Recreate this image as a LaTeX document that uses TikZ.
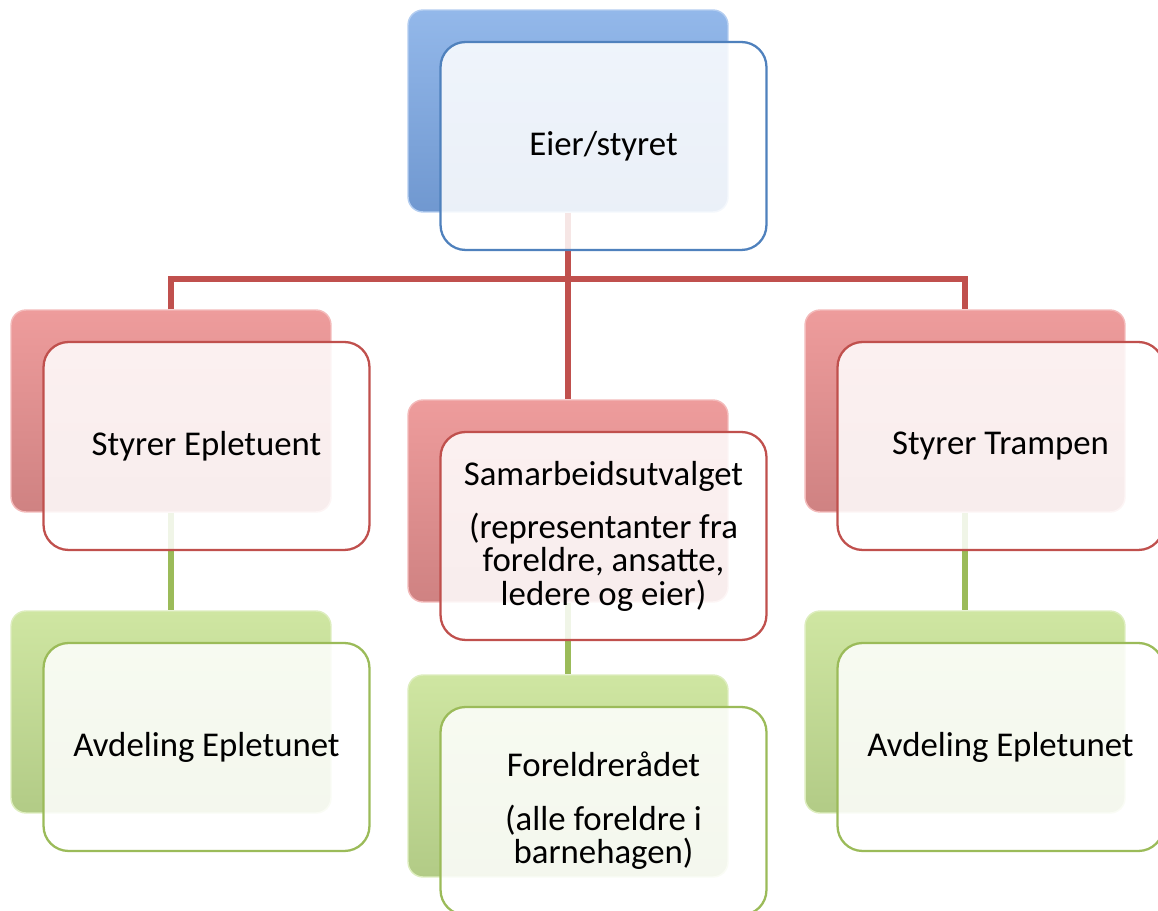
\documentclass[tikz,border=0pt]{standalone}
\usepackage{fontspec}
\setmainfont{Carlito}
\definecolor{blueline}{HTML}{4F81BD}
\definecolor{redline}{HTML}{C0504D}
\definecolor{greenline}{HTML}{9BBB59}
\definecolor{bluetop}{HTML}{93B8EA}
\definecolor{bluemid}{HTML}{7CA3DA}
\definecolor{bluebot}{HTML}{7098D0}
\definecolor{redtop}{HTML}{EE9C9C}
\definecolor{redmid}{HTML}{D58A8A}
\definecolor{redbot}{HTML}{CF8282}
\definecolor{greentop}{HTML}{CFE6A2}
\definecolor{greenmid}{HTML}{BCD591}
\definecolor{greenbot}{HTML}{B2CB86}
\tikzset{
	backbox/.style={rounded corners=0.3cm, minimum width=6.4cm, minimum height=4.04cm, draw=#1top!70!white, line width=0.8pt, top color=#1top, middle color=#1mid, bottom color=#1bot},
	frontbox/.style={rounded corners=0.5cm, minimum width=6.52cm, minimum height=4.16cm, draw=#1line, line width=1.3pt, fill=white, fill opacity=0.86, text opacity=1, align=center, font=\fontsize{19.8}{19}\selectfont, xshift=0.71cm, yshift=-0.7cm},
	link/.style={#1line, line width=3pt}
}
\begin{document}
\begin{tikzpicture}[x=0.02cm, y=-0.02cm]
	\useasboundingbox (0,0) rectangle (1158,911);
	\node [backbox=blue] (eier-b) at (568,111) {};
	\node [backbox=red] (epl-b) at (171,411) {};
	\node [backbox=red] (samarb-b) at (568,501) {};
	\node [backbox=red] (tramp-b) at (965,411) {};
	\node [backbox=green] (avdl-b) at (171,712) {};
	\node [backbox=green] (forel-b) at (568,776) {};
	\node [backbox=green] (avdr-b) at (965,712) {};
	\coordinate (fork) at (568,279);
	\draw [link=red] (eier-b.south) -- (fork);
	\draw [link=red] (epl-b.north) |- (fork) -| (tramp-b.north);
	\draw [link=red] (fork) -- (samarb-b.north);
	\draw [link=green] (epl-b.south) -- (avdl-b.north);
	\draw [link=green] (samarb-b.south) -- (forel-b.north);
	\draw [link=green] (tramp-b.south) -- (avdr-b.north);
	\node [frontbox=blue] (eier) at (eier-b) {Eier/styret};
	\node [frontbox=red] (epl) at (epl-b) {Styrer Epletuent};
	\node [frontbox=red] (samarb) at (samarb-b) {Samarbeidsutvalget\\[0.4cm](representanter fra\\foreldre, ansatte,\\ledere og eier)};
	\node [frontbox=red] (tramp) at (tramp-b) {Styrer Trampen};
	\node [frontbox=green] (avdl) at (avdl-b) {Avdeling Epletunet};
	\node [frontbox=green] (forel) at (forel-b) {Foreldrerådet\\[0.4cm](alle foreldre i\\barnehagen)};
	\node [frontbox=green] (avdr) at (avdr-b) {Avdeling Epletunet};
\end{tikzpicture}
\end{document}
